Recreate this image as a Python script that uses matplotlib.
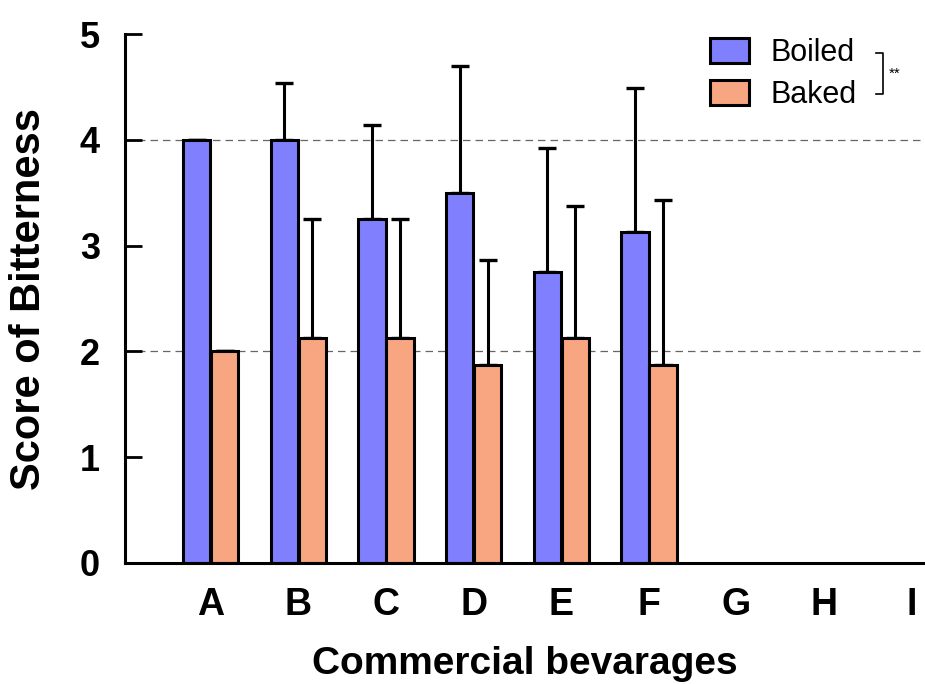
import matplotlib
matplotlib.use("Agg")
import matplotlib.pyplot as plt
import numpy as np
from matplotlib.patches import Patch

categories = ["A", "B", "C", "D", "E", "F", "G", "H", "I"]
boiled = [4.0, 4.0, 3.25, 3.5, 2.75, 3.125]
baked = [2.0, 2.125, 2.125, 1.875, 2.125, 1.875]
boiled_err = [0.0, 0.54, 0.89, 1.2, 1.17, 1.37]
baked_err = [0.0, 1.125, 1.125, 0.99, 1.25, 1.555]
yticks = [0, 1, 2, 3, 4, 5]

plt.rcParams['font.family'] = ['Liberation Sans', 'DejaVu Sans']

fig = plt.figure(figsize=(9.25, 6.84), dpi=100)
ax = fig.add_axes([0.135, 0.177, 0.865, 0.773])

c_boil = "#8080FF"
c_bake = "#F8A582"
w = 0.31
off = 0.16
x = np.arange(len(boiled))

ax.bar(x - off, boiled, width=w, color=c_boil, edgecolor="black", linewidth=2.2, zorder=3)
ax.bar(x + off, baked, width=w, color=c_bake, edgecolor="black", linewidth=2.2, zorder=3)
ax.errorbar(x - off, boiled, yerr=[np.zeros(len(boiled)), boiled_err], fmt="none",
            ecolor="black", elinewidth=2.2, capsize=6.5, capthick=2.4, zorder=2)
ax.errorbar(x + off, baked, yerr=[np.zeros(len(baked)), baked_err], fmt="none",
            ecolor="black", elinewidth=2.2, capsize=6.5, capthick=2.4, zorder=2)

for yv in [2, 4]:
    ax.axhline(yv, color="#666666", linestyle=(0, (6, 4)), linewidth=0.9, zorder=1)

ax.set_xlim(-0.98, 8.15)
ax.set_ylim(0, 5)
ax.set_xticks(np.arange(len(categories)))
ax.set_xticklabels(categories, fontsize=27, fontweight="bold")
ax.set_yticks(yticks)
ax.set_yticklabels([str(t) for t in yticks], fontsize=26, fontweight="bold")
ax.tick_params(axis="x", length=0, pad=17)
ax.tick_params(axis="y", direction="in", length=12, width=2, pad=18)
for s in ["top", "right"]:
    ax.spines[s].set_visible(False)
ax.spines["left"].set_linewidth(2.2)
ax.spines["bottom"].set_linewidth(2.2)
ax.spines["left"].set_zorder(5)
ax.spines["bottom"].set_zorder(5)

ax.set_xlabel("Commercial bevarages", fontsize=28, fontweight="bold", va="center")
ax.xaxis.set_label_coords(0.5, -0.192)
ax.set_ylabel("Score of Bitterness", fontsize=30, fontweight="bold", va="center")
ax.yaxis.set_label_coords(-0.12, 0.5)

handles = [Patch(facecolor=c_boil, edgecolor="black", linewidth=2.2, label="Boiled"),
           Patch(facecolor=c_bake, edgecolor="black", linewidth=2.2, label="Baked")]
leg = ax.legend(handles=handles, loc="upper left", bbox_to_anchor=(0.731, 0.993),
                frameon=False, fontsize=22, handlelength=1.3, handleheight=0.85,
                handletextpad=0.7, labelspacing=0.4, borderpad=0, borderaxespad=0)

# significance bracket
fig.lines.append(plt.Line2D([876/925, 883/925, 883/925, 876/925],
                            [1 - 53/684, 1 - 53/684, 1 - 94/684, 1 - 94/684],
                            transform=fig.transFigure, color="black", linewidth=1.2))
fig.text(889/925, 1 - 74/684, "**", fontsize=11, va="center", ha="left")

fig.savefig("out.png", dpi=100)
